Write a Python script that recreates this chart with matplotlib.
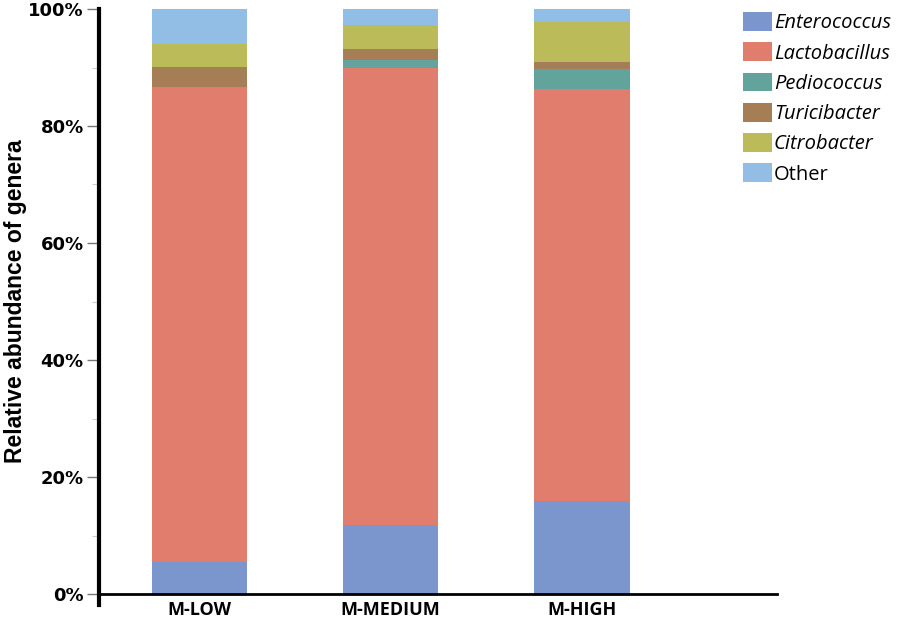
import matplotlib.pyplot as plt
import numpy as np
from matplotlib.ticker import FixedLocator, FuncFormatter

groups = ["M-LOW", "M-MEDIUM", "M-HIGH"]
genera = ["Enterococcus", "Lactobacillus", "Pediococcus", "Turicibacter", "Citrobacter", "Other"]
colors = ["#7b96cc", "#e07d6c", "#62a49b", "#a67e56", "#bbbb59", "#92bde5"]

enterococcus = [5.4, 11.8, 15.9]
lactobacillus = [81.2, 78.2, 70.4]
pediococcus = [0.0, 1.2, 3.5]
turicibacter = [3.4, 2.0, 1.1]
citrobacter = [4.0, 4.1, 6.8]
other = [6.0, 2.7, 2.3]

values = [enterococcus, lactobacillus, pediococcus, turicibacter, citrobacter, other]

fig = plt.figure(figsize=(8.98, 6.21), dpi=100)
ax = fig.add_axes([99 / 898, 1 - 594 / 621, (777 - 99) / 898, (594 - 9) / 621])

x = np.arange(len(groups))
bottom = np.zeros(len(groups))
for name, vals, c in zip(genera, values, colors):
    ax.bar(x, vals, bottom=bottom, width=0.5, color=c, label=name, linewidth=0)
    bottom += np.array(vals)

ax.set_xlim(-0.525, 3.02)
ax.set_ylim(0, 100)

for s in ["top", "right"]:
    ax.spines[s].set_visible(False)
ax.spines["left"].set_linewidth(3)
ax.spines["left"].set_bounds(-1.8, 100)
ax.spines["bottom"].set_linewidth(2)

ax.yaxis.set_major_locator(FixedLocator([0, 20, 40, 60, 80, 100]))
ax.yaxis.set_minor_locator(FixedLocator([10, 30, 50, 70, 90]))
ax.yaxis.set_major_formatter(FuncFormatter(lambda v, p: f"{int(v)}%"))
ax.tick_params(axis="y", which="major", length=9, width=1, color="#777777",
               labelsize=13, pad=2)
ax.tick_params(axis="y", which="minor", length=5, width=0.8, color="#cccccc")
ax.tick_params(axis="x", length=0, labelsize=13, pad=5)
for lbl in ax.get_yticklabels():
    lbl.set_fontweight("bold")

ax.set_xticks(x)
ax.set_xticklabels(groups, fontweight="bold", family="Open Sans")
ax.set_ylabel("Relative abundance of genera", fontsize=16.5, fontweight="bold",
              family="Liberation Sans")
ax.yaxis.set_label_coords(-0.106, 0.5)

handles, labels = ax.get_legend_handles_labels()
leg = fig.legend(handles, labels, loc="upper left", bbox_to_anchor=(735 / 898, 1 - 4 / 621),
                 frameon=False, prop={"family": "Open Sans", "size": 14.5},
                 handlelength=1.45, handleheight=1.05, handletextpad=0.08,
                 labelspacing=0.45, borderaxespad=0)
for t in leg.get_texts():
    if t.get_text() != "Other":
        t.set_style("italic")

fig.savefig("out.png", dpi=100)
